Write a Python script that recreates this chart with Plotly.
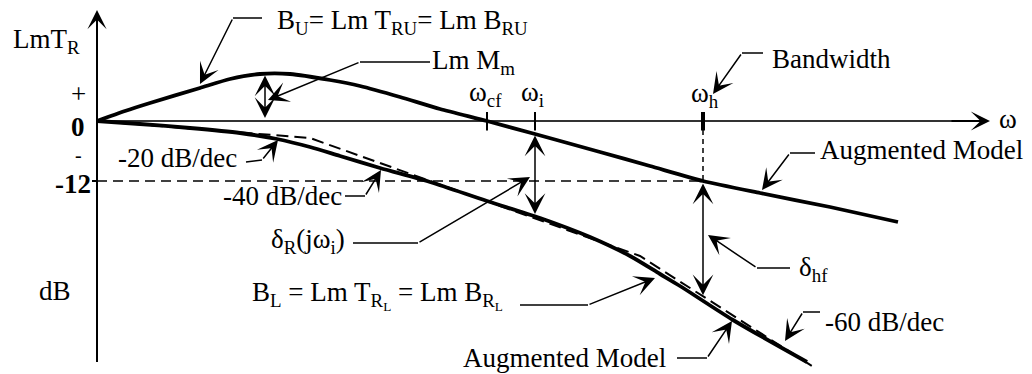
import numpy as np
import plotly.graph_objects as go

# Frequency axis in log-frequency units (origin at the Lm axis), magnitude in dB
w_upper = [0, 0.28, 0.53, 1.03, 1.33, 1.63, 1.93, 2.33, 2.63, 3.03, 3.43, 3.90,
           4.38, 5.03, 5.53, 6.06, 6.63, 7.33, 8.01]
lm_upper = [0, 2.0, 3.6, 6.6, 8.4, 9.4, 9.4, 8.2, 7.0, 4.8, 2.4, 0,
            -2.6, -6.2, -9.0, -12.0, -14.4, -17.2, -20.2]

w_lower = [0, 0.43, 0.93, 1.43, 1.80, 2.13, 2.43, 2.83, 3.33, 3.90, 4.43,
           4.93, 5.33, 5.63, 5.83, 6.36, 7.10]
lm_lower = [0, -0.6, -1.4, -2.4, -3.6, -5.2, -7.0, -9.4, -12.2, -16.0, -19.4,
            -23.2, -27.0, -30.6, -33.0, -39.8, -48.2]

# straight-line asymptotes of the lower bound (-20, -40, -60 dB/dec)
w_asym = [0, 2.13, 5.43, 7.15]
lm_asym = [0, -3.4, -27.0, -49.0]

# marked frequencies and levels
w_cf, w_i, w_h = 3.90, 4.38, 6.06
w_peak = 1.68
lm_spec = -12.0
lm_peak = 9.4

x_axis_end = 8.93
y_axis_top, y_axis_bottom = 22.2, -48.2

FONT = "Liberation Serif"
FS = 27

fig = go.Figure()

# axes
fig.add_trace(go.Scatter(x=[0, 0], y=[y_axis_bottom, y_axis_top - 2], mode="lines",
                         line=dict(color="black", width=2), hoverinfo="skip"))
fig.add_trace(go.Scatter(x=[0, x_axis_end - 0.3], y=[0, 0], mode="lines",
                         line=dict(color="#333", width=2), hoverinfo="skip"))

# -12 dB specification line and bandwidth marker
fig.add_trace(go.Scatter(x=[0, w_h], y=[lm_spec, lm_spec], mode="lines",
                         line=dict(color="black", width=1.6, dash="10px,6px"), hoverinfo="skip"))
fig.add_trace(go.Scatter(x=[w_h, w_h], y=[0, lm_spec], mode="lines",
                         line=dict(color="black", width=1.5, dash="5px,4px"), hoverinfo="skip"))

# tick marks on the frequency axis
for w, lw in [(w_cf, 2), (w_i, 2), (w_h, 4)]:
    fig.add_trace(go.Scatter(x=[w, w], y=[1.8, -1.9], mode="lines",
                             line=dict(color="black", width=lw), hoverinfo="skip"))
fig.add_trace(go.Scatter(x=[-0.05, 0], y=[lm_spec, lm_spec], mode="lines",
                         line=dict(color="black", width=2), hoverinfo="skip"))

# asymptotes (dashed) and bounds (solid)
fig.add_trace(go.Scatter(x=w_asym, y=lm_asym, mode="lines",
                         line=dict(color="black", width=2, dash="12px,6px"), hoverinfo="skip"))
fig.add_trace(go.Scatter(x=w_lower, y=lm_lower, mode="lines",
                         line=dict(color="black", width=3.8, shape="spline", smoothing=0.8),
                         hoverinfo="skip"))
fig.add_trace(go.Scatter(x=w_upper, y=lm_upper, mode="lines",
                         line=dict(color="black", width=3.8, shape="spline", smoothing=0.6),
                         hoverinfo="skip"))

annotations = []


def arrow(x, y, ax, ay, both=False, width=1.5, size=2.3):
    annotations.append(dict(
        x=x, y=y, ax=ax, ay=ay, xref="x", yref="y", axref="x", ayref="y",
        text="", showarrow=True, arrowhead=3, arrowsize=size, arrowwidth=width,
        arrowcolor="black", standoff=0, startstandoff=0,
        arrowside="end+start" if both else "end", startarrowhead=3, startarrowsize=size))


# axis arrowheads
arrow(0, y_axis_top, 0, y_axis_top - 3, width=2, size=1.6)
arrow(x_axis_end, 0, x_axis_end - 0.4, 0, width=2, size=1.6)

# dimension arrows
arrow(w_peak, lm_peak - 0.3, w_peak, 0.3, both=True)
lo_i = float(np.interp(w_i, w_lower, lm_lower))
hi_i = float(np.interp(w_i, w_upper, lm_upper))
arrow(w_i, hi_i - 0.3, w_i, lo_i + 0.2, both=True)
lo_h = float(np.interp(w_h, w_lower, lm_lower))
arrow(w_h, lm_spec - 0.5, w_h, lo_h + 0.8, both=True)

# leader lines: polyline ending with an arrowhead on the last segment
leaders = [
    [(1.65, 20.6), (1.36, 20.6), (1.03, 7.4)],
    [(3.33, 11.8), (2.63, 11.8), (1.71, 4.2)],
    [(6.66, 13.6), (6.45, 13.6), (6.16, 5.4)],
    [(7.18, -6.4), (6.93, -6.4), (6.65, -13.8)],
    [(1.49, -8.2), (1.65, -7.8), (1.81, -3.8)],
    [(2.48, -15.0), (2.68, -15.0), (2.84, -9.8)],
    [(2.56, -24.4), (3.21, -24.4), (4.33, -11.2)],
    [(4.23, -36.8), (4.91, -36.8), (5.58, -31.4)],
    [(6.93, -29.4), (6.60, -29.4), (6.11, -22.8)],
    [(7.23, -38.2), (7.06, -38.2), (6.88, -44.0)],
    [(5.80, -47.4), (6.10, -47.4), (6.35, -40.0)],
]
for pts in leaders:
    xs = [p[0] for p in pts[:-1]]
    ys = [p[1] for p in pts[:-1]]
    fig.add_trace(go.Scatter(x=xs, y=ys, mode="lines",
                             line=dict(color="black", width=1.5), hoverinfo="skip"))
    arrow(pts[-1][0], pts[-1][1], pts[-2][0], pts[-2][1])

labels = [
    ("LmT<sub>R</sub>", -0.86, 16.0, FS),
    ("+", -0.28, 5.4, FS),
    ("<b>0</b>", -0.28, -1.2, FS),
    ("-", -0.24, -6.8, 20),
    ("<b>-12</b>", -0.44, -12.6, FS),
    ("dB", -0.60, -34.0, FS),
    ("B<sub>U</sub>= Lm T<sub>RU</sub>= Lm B<sub>RU</sub>", 1.78, 19.8, FS),
    ("Lm M<sub>m</sub>", 3.33, 11.8, FS),
    ("ω<sub>cf</sub>", 3.70, 5.4, FS),
    ("ω<sub>i</sub>", 4.22, 5.4, FS),
    ("ω<sub>h</sub>", 5.92, 5.2, FS),
    ("Bandwidth", 6.73, 12.4, FS),
    ("ω", 9.00, 0.4, FS),
    ("Augmented Model", 7.21, -5.8, FS),
    ("-20 dB/dec", 0.19, -7.4, FS),
    ("-40 dB/dec", 1.24, -15.0, FS),
    ("δ<sub>R</sub>(jω<sub>i</sub>)", 1.72, -24.0, FS),
    ("B<sub>L</sub> = Lm T<sub>R<sub>L</sub></sub> = Lm B<sub>R<sub>L</sub></sub>", 1.53, -34.8, FS),
    ("δ<sub>hf</sub>", 7.00, -29.6, FS),
    ("-60 dB/dec", 7.26, -40.2, FS),
    ("Augmented Model", 3.64, -47.4, FS),
]
for text, x, y, fs in labels:
    annotations.append(dict(x=x, y=y, xref="x", yref="y", text=text, showarrow=False,
                            xanchor="left", yanchor="middle",
                            font=dict(family=FONT, size=fs, color="black")))

fig.update_layout(
    width=1032, height=374, margin=dict(l=0, r=0, t=0, b=0),
    paper_bgcolor="white", plot_bgcolor="white", showlegend=False,
    xaxis=dict(range=[-0.97, 9.35], visible=False, fixedrange=True),
    yaxis=dict(range=[-50.6, 24.2], visible=False, fixedrange=True),
    annotations=annotations,
)

fig.write_html("out.html")
